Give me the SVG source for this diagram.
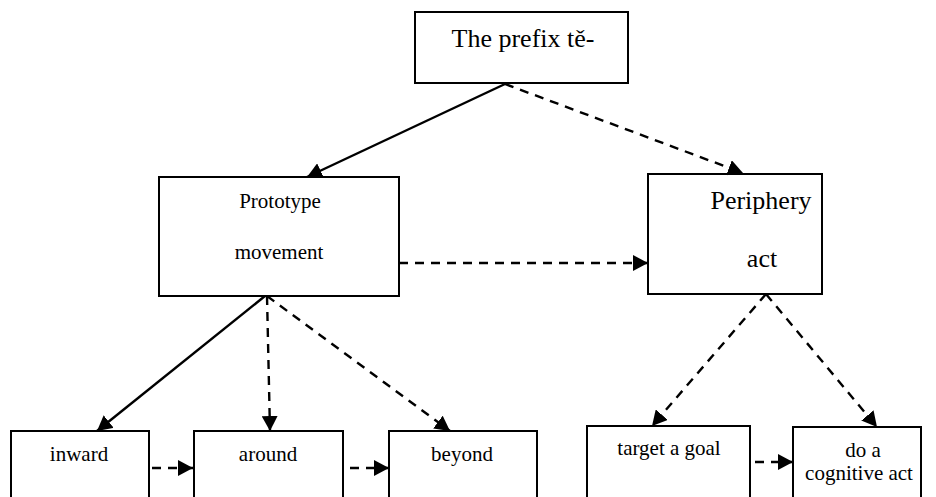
<svg xmlns="http://www.w3.org/2000/svg" width="936" height="497" viewBox="0 0 936 497">
  <defs>
    <marker id="arrow" markerUnits="userSpaceOnUse" markerWidth="16" markerHeight="16" refX="15" refY="8" orient="auto">
      <path d="M0,0 L15,8 L0,16 z" fill="#000"/>
    </marker>
    <style>
      .box { fill: #fff; stroke: #000; stroke-width: 2; }
      .t { font-family: "Liberation Serif", "Times New Roman", serif; fill: #000; text-anchor: middle; }
      .big { font-size: 26px; }
      .small { font-size: 21px; }
      .solid { fill: none; stroke: #000; stroke-width: 2.4; marker-end: url(#arrow); }
      .dash { fill: none; stroke: #000; stroke-width: 2.4; stroke-dasharray: 9 7; marker-end: url(#arrow); }
    </style>
  </defs>
  <rect width="936" height="497" fill="#fff"/>

  <g id="node-prefix">
    <rect class="box" x="415" y="12" width="213" height="71"/>
    <text class="t big" x="523" y="47">The prefix tě-</text>
  </g>

  <g id="node-prototype">
    <rect class="box" x="159" y="177" width="240" height="119"/>
    <text class="t small" x="280" y="208">Prototype</text>
    <text class="t small" x="279" y="259">movement</text>
  </g>

  <g id="node-periphery">
    <rect class="box" x="648" y="174" width="174" height="120"/>
    <text class="t big" x="761" y="209">Periphery</text>
    <text class="t big" x="762" y="267">act</text>
  </g>

  <g id="node-inward">
    <rect class="box" x="11" y="431" width="138" height="80"/>
    <text class="t small" x="79" y="461">inward</text>
  </g>

  <g id="node-around">
    <rect class="box" x="194" y="431" width="149" height="80"/>
    <text class="t small" x="268" y="461">around</text>
  </g>

  <g id="node-beyond">
    <rect class="box" x="389" y="431" width="148" height="80"/>
    <text class="t small" x="462" y="461">beyond</text>
  </g>

  <g id="node-target">
    <rect class="box" x="587" y="426" width="163" height="85"/>
    <text class="t small" x="669" y="455">target a goal</text>
  </g>

  <g id="node-cognitive">
    <rect class="box" x="793" y="427" width="128" height="84"/>
    <text class="t small" x="863" y="457">do a</text>
    <text class="t small" x="859" y="480">cognitive act</text>
  </g>

  <g id="connectors">
    <line class="solid" x1="505" y1="84" x2="307" y2="177"/>
    <line class="dash" x1="505" y1="84" x2="743" y2="173"/>
    <line class="dash" x1="399" y1="263" x2="648" y2="263"/>
    <line class="solid" x1="265" y1="296" x2="97" y2="431"/>
    <line class="dash" x1="267" y1="296" x2="270" y2="431"/>
    <line class="dash" x1="267" y1="296" x2="450" y2="431"/>
    <line class="dash" x1="766" y1="294" x2="652" y2="426"/>
    <line class="dash" x1="766" y1="294" x2="877" y2="427"/>
    <line class="dash" x1="152" y1="468" x2="193" y2="468"/>
    <line class="dash" x1="350" y1="468" x2="389" y2="468"/>
    <line class="dash" x1="755" y1="462" x2="793" y2="462"/>
  </g>
</svg>
